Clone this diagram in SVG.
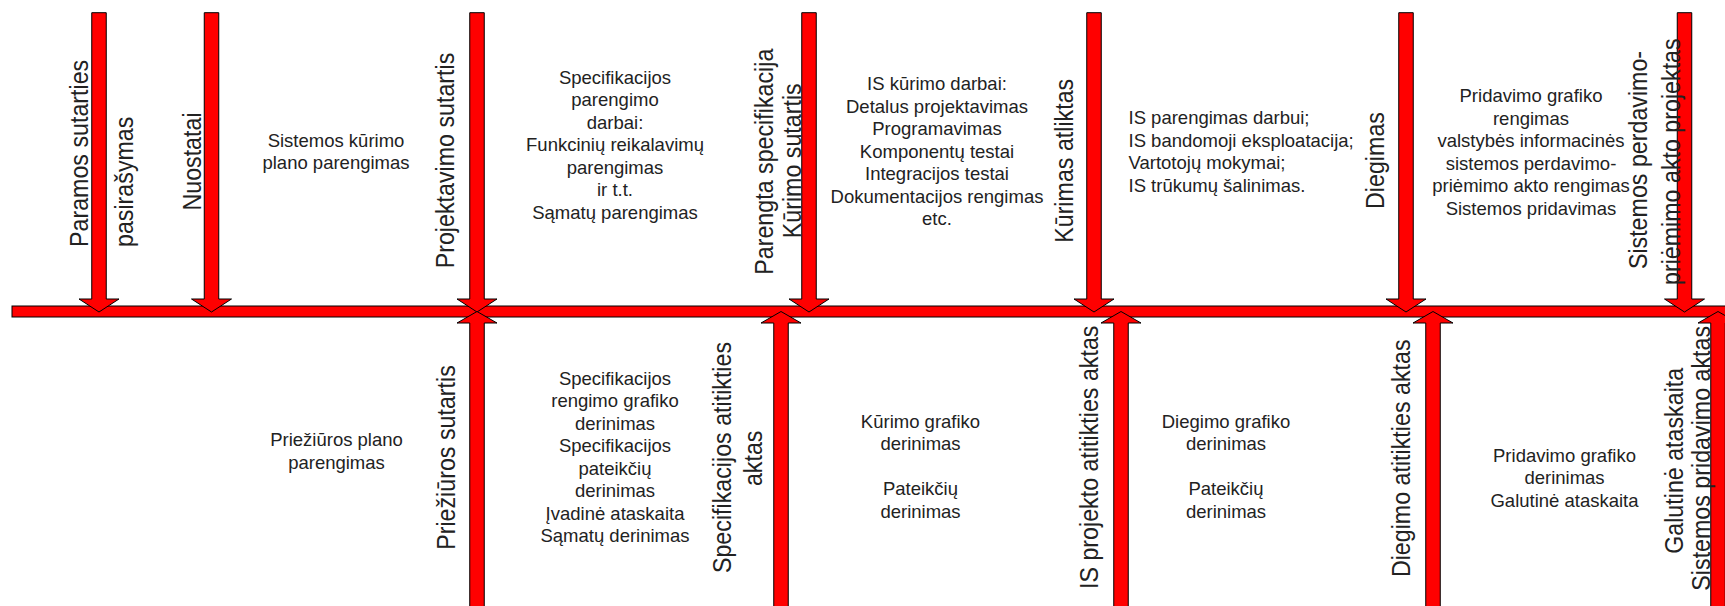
<svg xmlns="http://www.w3.org/2000/svg" xmlns:xlink="http://www.w3.org/1999/xlink" width="1725" height="606" viewBox="0 0 1725 606">
<style>
.arr{fill:#ff0000;stroke:#000;stroke-width:1}
.t{font-family:"Liberation Sans",Arial,sans-serif;font-size:18.5px;fill:#222;text-anchor:middle}
.tl{text-anchor:start}
.v{font-family:"Liberation Sans",Arial,sans-serif;font-size:25px;fill:#222;text-anchor:middle}
.vs{text-anchor:start}
</style>
<defs>
<path id="down" class="arr" d="M-7.25,12.7 H7.25 V299 H20 L0,312 L-20,299 H-7.25 Z"/>
<path id="up" class="arr" d="M0,311.5 L20,323 H7.25 V612 H-7.25 V323 H-20 Z"/>
</defs>
<rect width="1725" height="606" fill="#fff"/>
<g id="connectors">
<rect class="arr" x="12" y="306" width="1720" height="11"/>
</g>
<g id="m-paramos">
<use href="#down" x="99"/>
<text class="v vs" transform="translate(88,247) rotate(-90) scale(0.93,1)">Paramos sutarties</text>
<text class="v vs" transform="translate(133,247) rotate(-90) scale(0.93,1)">pasirašymas</text>
</g>
<g id="m-nuostatai">
<use href="#down" x="211.5"/>
<text class="v" transform="translate(200.5,161.5) rotate(-90) scale(0.93,1)">Nuostatai</text>
</g>
<g id="m-projektavimo">
<use href="#down" x="477"/>
<text class="v" transform="translate(454,160.5) rotate(-90) scale(0.93,1)">Projektavimo sutartis</text>
</g>
<g id="m-prieziuros">
<use href="#up" x="477"/>
<text class="v" transform="translate(455,457.5) rotate(-90) scale(0.93,1)">Priežiūros sutartis</text>
</g>
<g id="m-specifikacijos-aktas">
<use href="#up" x="781"/>
<text class="v" transform="translate(730.5,457.5) rotate(-90) scale(0.93,1)">Specifikacijos atitikties</text>
<text class="v" transform="translate(761.5,458.3) rotate(-90) scale(0.93,1)">aktas</text>
</g>
<g id="m-kurimo-sutartis">
<use href="#down" x="809"/>
<text class="v" transform="translate(772.5,161.7) rotate(-90) scale(0.93,1)">Parengta specifikacija</text>
<text class="v" transform="translate(801,160.8) rotate(-90) scale(0.93,1)">Kūrimo sutartis</text>
</g>
<g id="m-kurimas-atliktas">
<use href="#down" x="1094"/>
<text class="v" transform="translate(1073,160.8) rotate(-90) scale(0.93,1)">Kūrimas atliktas</text>
</g>
<g id="m-is-projekto">
<use href="#up" x="1121"/>
<text class="v" transform="translate(1098,457.3) rotate(-90) scale(0.93,1)">IS projekto atitikties aktas</text>
</g>
<g id="m-diegimas">
<use href="#down" x="1406"/>
<text class="v" transform="translate(1384,160.5) rotate(-90) scale(0.93,1)">Diegimas</text>
</g>
<g id="m-diegimo-aktas">
<use href="#up" x="1433"/>
<text class="v" transform="translate(1409.5,458.3) rotate(-90) scale(0.93,1)">Diegimo atitikties aktas</text>
</g>
<g id="m-perdavimo">
<use href="#down" x="1684.5"/>
<text class="v" transform="translate(1647,160) rotate(-90) scale(0.93,1)">Sistemos perdavimo-</text>
<text class="v" transform="translate(1680,161.7) rotate(-90) scale(0.93,1)">priėmimo akto projektas</text>
</g>
<g id="m-pridavimo-aktas">
<use href="#up" x="1718"/>
<text class="v" transform="translate(1683,460.8) rotate(-90) scale(0.93,1)">Galutinė ataskaita</text>
<text class="v" transform="translate(1710,458.3) rotate(-90) scale(0.93,1)">Sistemos pridavimo aktas</text>
</g>
<g id="b-sistemos-planas">
<text class="t" x="336" y="146.5"><tspan x="336">Sistemos kūrimo</tspan><tspan x="336" dy="22.5">plano parengimas</tspan></text>
</g>
<g id="b-specifikacijos-darbai">
<text class="t" x="615" y="83.5"><tspan x="615">Specifikacijos</tspan><tspan x="615" dy="22.5">parengimo</tspan><tspan x="615" dy="22.5">darbai:</tspan><tspan x="615" dy="22.5">Funkcinių reikalavimų</tspan><tspan x="615" dy="22.5">parengimas</tspan><tspan x="615" dy="22.5">ir t.t.</tspan><tspan x="615" dy="22.5">Sąmatų parengimas</tspan></text>
</g>
<g id="b-is-kurimo">
<text class="t" x="937" y="90"><tspan x="937">IS kūrimo darbai:</tspan><tspan x="937" dy="22.5">Detalus projektavimas</tspan><tspan x="937" dy="22.5">Programavimas</tspan><tspan x="937" dy="22.5">Komponentų testai</tspan><tspan x="937" dy="22.5">Integracijos testai</tspan><tspan x="937" dy="22.5">Dokumentacijos rengimas</tspan><tspan x="937" dy="22.5">etc.</tspan></text>
</g>
<g id="b-is-parengimas">
<text class="t tl" x="1128.5" y="124"><tspan x="1128.5">IS parengimas darbui;</tspan><tspan x="1128.5" dy="22.5">IS bandomoji eksploatacija;</tspan><tspan x="1128.5" dy="22.5">Vartotojų mokymai;</tspan><tspan x="1128.5" dy="22.5">IS trūkumų šalinimas.</tspan></text>
</g>
<g id="b-pridavimo-rengimas">
<text class="t" x="1531" y="102"><tspan x="1531">Pridavimo grafiko</tspan><tspan x="1531" dy="22.5">rengimas</tspan><tspan x="1531" dy="22.5">valstybės informacinės</tspan><tspan x="1531" dy="22.5">sistemos perdavimo-</tspan><tspan x="1531" dy="22.5">priėmimo akto rengimas</tspan><tspan x="1531" dy="22.5">Sistemos pridavimas</tspan></text>
</g>
<g id="b-prieziuros-planas">
<text class="t" x="336.5" y="446"><tspan x="336.5">Priežiūros plano</tspan><tspan x="336.5" dy="22.5">parengimas</tspan></text>
</g>
<g id="b-specifikacijos-derinimas">
<text class="t" x="615" y="384.5"><tspan x="615">Specifikacijos</tspan><tspan x="615" dy="22.5">rengimo grafiko</tspan><tspan x="615" dy="22.5">derinimas</tspan><tspan x="615" dy="22.5">Specifikacijos</tspan><tspan x="615" dy="22.5">pateikčių</tspan><tspan x="615" dy="22.5">derinimas</tspan><tspan x="615" dy="22.5">Įvadinė ataskaita</tspan><tspan x="615" dy="22.5">Sąmatų derinimas</tspan></text>
</g>
<g id="b-kurimo-derinimas">
<text class="t" x="920.5" y="427.5"><tspan x="920.5">Kūrimo grafiko</tspan><tspan x="920.5" dy="22.5">derinimas</tspan><tspan x="920.5" dy="45">Pateikčių</tspan><tspan x="920.5" dy="22.5">derinimas</tspan></text>
</g>
<g id="b-diegimo-derinimas">
<text class="t" x="1226" y="427.5"><tspan x="1226">Diegimo grafiko</tspan><tspan x="1226" dy="22.5">derinimas</tspan><tspan x="1226" dy="45">Pateikčių</tspan><tspan x="1226" dy="22.5">derinimas</tspan></text>
</g>
<g id="b-pridavimo-derinimas">
<text class="t" x="1564.5" y="461.5"><tspan x="1564.5">Pridavimo grafiko</tspan><tspan x="1564.5" dy="22.5">derinimas</tspan><tspan x="1564.5" dy="22.5">Galutinė ataskaita</tspan></text>
</g>
</svg>
